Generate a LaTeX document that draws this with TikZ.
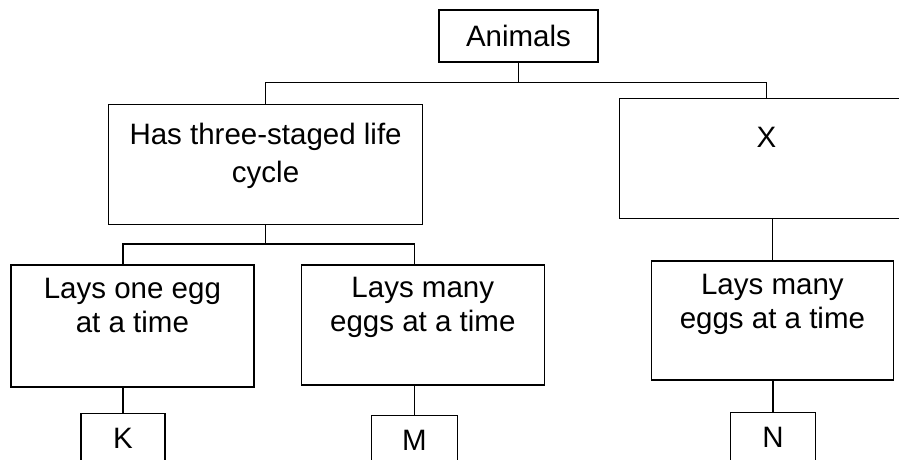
\documentclass[tikz,border=0pt]{standalone}
\usepackage{fontspec}
\setmainfont{Liberation Sans}
\usetikzlibrary{positioning}

\begin{document}
\begin{tikzpicture}[
  x=1pt, y=1pt,
  box/.style={draw=black, line width=1.4pt, align=center, inner sep=0pt, font=\fontsize{29.5}{34}\selectfont},
  bigbox/.style={box, minimum width=243pt, minimum height=120pt, text depth=41pt},
  leafbox/.style={box, minimum width=85pt, minimum height=56pt, text depth=5pt},
  link/.style={draw=black, line width=1.4pt}
]
\clip (0,0) rectangle (899,459);
\node[box, minimum width=159pt, minimum height=52pt] (animals) at (518.5,423) {Animals};
\node[bigbox, minimum width=314pt, text depth=23pt, font=\fontsize{29.5}{38}\selectfont, below left=41pt and 15pt of animals] (life) {Has three-staged life\\cycle};
\node[bigbox, minimum width=294pt, text depth=43pt, below right=35pt and 20pt of animals] (xbox) {X};
\node[bigbox, minimum height=122pt, below left=39pt and 11pt of life.south] (one) {Lays one egg\\at a time};
\node[bigbox, below right=39pt and 35pt of life.south] (many) {Lays many\\eggs at a time};
\node[bigbox, minimum width=242pt, minimum height=119pt, text depth=37pt, below=41pt of xbox, xshift=6pt] (manyx) {Lays many\\eggs at a time};
\node[leafbox, minimum width=84pt, below=25pt of one, xshift=-9.5pt] (k) {K};
\node[leafbox, minimum width=86pt, below=29pt of many, xshift=-8.5pt] (m) {M};
\node[leafbox, below=31pt of manyx, xshift=0.5pt] (n) {N};
% top level
\draw[link] (life.north) -- ++(0,21) coordinate (bar) -| (xbox.north);
\draw[link] (animals.south) -- (animals.south |- bar);
% life cycle branch
\draw[link] (life.south) -- ++(0,-19) coordinate (fork);
\draw[link] (one.north -| k.north) |- (fork) -| (many.north -| m.north);
\draw[link] (xbox.south -| manyx.north) -- (manyx.north);
% leaves
\draw[link] (k.north) -- (k.north |- one.south);
\draw[link] (m.north) -- (m.north |- many.south);
\draw[link] (n.north) -- (n.north |- manyx.south);
\end{tikzpicture}
\end{document}
